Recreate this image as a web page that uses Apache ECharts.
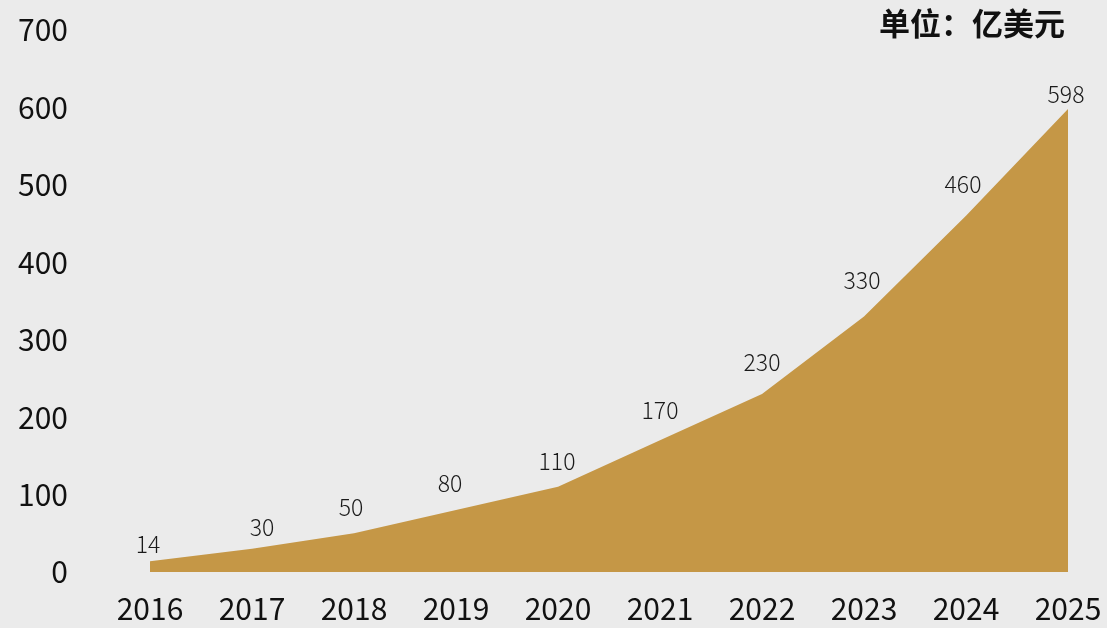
<!DOCTYPE html>
<html>
<head>
<meta charset="utf-8">
<style>
  html, body { margin: 0; padding: 0; background: #ebebeb; }
  #chart { width: 1107px; height: 628px; }
</style>
<script src="https://cdn.jsdelivr.net/npm/echarts@6/dist/echarts.min.js"></script>
</head>
<body>
<div id="chart"></div>
<script>
// Market size by year (unit: 100 million USD)
const years = ['2016', '2017', '2018', '2019', '2020', '2021', '2022', '2023', '2024', '2025'];
const marketSize = [14, 30, 50, 80, 110, 170, 230, 330, 460, 598];
const unitLabel = '单位：亿美元';

// Hand-placed nudges [dx, dy] for the value labels so they sit clear of the slope
const labelNudge = [[-2, 0], [10, -5], [-3, -10], [-6, -10], [-1, -9], [0, -14], [0, -15], [-2, -20], [-3, -15], [-2, 2]];

const chart = echarts.init(document.getElementById('chart'));
const font = '"Noto Sans CJK SC", "Noto Sans", sans-serif';

chart.setOption({
  backgroundColor: '#ebebeb',
  animation: false,
  grid: { left: 150, right: 39, top: 30, bottom: 56 },
  xAxis: {
    type: 'category',
    data: years,
    boundaryGap: false,
    axisLine: { show: false },
    axisTick: { show: false },
    axisLabel: { color: '#111', fontSize: 30, fontFamily: font, margin: 22 }
  },
  yAxis: {
    type: 'value',
    min: 0,
    max: 700,
    interval: 100,
    splitLine: { show: false },
    axisLine: { show: false },
    axisTick: { show: false },
    axisLabel: { color: '#111', fontSize: 30, fontFamily: font, align: 'right', margin: 82 }
  },
  graphic: [{
    type: 'text',
    right: 42,
    top: 8,
    style: { text: unitLabel, fill: '#111', font: 'bold 31px ' + font }
  }],
  series: [{
    type: 'line',
    data: marketSize.map((v, i) => ({
      value: v,
      label: { offset: labelNudge[i] }
    })),
    symbol: 'circle',
    symbolSize: 2,
    showAllSymbol: true,
    itemStyle: { color: 'rgba(0,0,0,0)', borderWidth: 0 },
    lineStyle: { width: 0 },
    areaStyle: { color: '#c59746', opacity: 1 },
    label: {
      show: true,
      position: 'top',
      distance: 4,
      color: '#1a1a1a',
      fontSize: 23,
      fontWeight: 300,
      fontFamily: font
    }
  }]
});
</script>
</body>
</html>
